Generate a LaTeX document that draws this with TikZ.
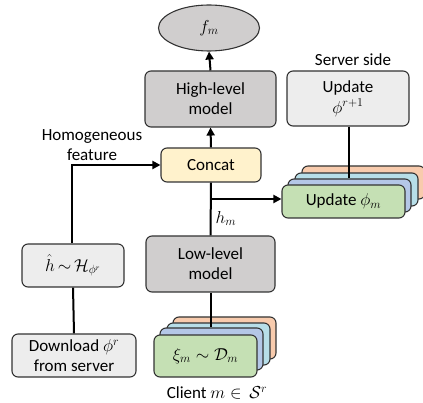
\documentclass[tikz,border=0pt]{standalone}
\usepackage{fontspec}
\setmainfont{Carlito}
\usetikzlibrary{shapes.geometric,arrows.meta,calc}
\definecolor{dgray}{HTML}{D0CECE}
\definecolor{lgray}{HTML}{EDEDED}
\definecolor{cyel}{HTML}{FFF2CC}
\definecolor{cgreen}{HTML}{C5E0B4}
\definecolor{cblue}{HTML}{B4C7E7}
\definecolor{cteal}{HTML}{B7DEE8}
\definecolor{corange}{HTML}{F8CBAD}
\definecolor{bord}{HTML}{333333}
\begin{document}
\begin{tikzpicture}[x=1pt,y=-1pt,
  every node/.style={font=\fontsize{17}{20}\selectfont},
  box/.style={draw=bord,line width=1.1pt,rounded corners=6pt,align=center,inner sep=0pt},
  conn/.style={line width=2pt,black},
  arr/.style={conn,-{Triangle[length=8pt,width=8pt]}},
  lbl/.style={align=center,inner sep=0pt}]
\useasboundingbox (0,0) rectangle (423,403);
% top
\node[ellipse,draw=bord,line width=1.1pt,fill=dgray,minimum width=101pt,minimum height=46pt,inner sep=0pt] (fm) at (209,28) {$f_m$};
\node[box,fill=dgray,minimum width=131pt,minimum height=56pt] (high) at (210.5,99) {High-level\\model};
\node[lbl] (srv) at (353,60) {Server side};
\node[box,fill=lgray,minimum width=122pt,minimum height=55pt] (upd) at (348,98.5) {Update\\[1pt]$\phi^{r+1}$};
\node[lbl] (homo) at (92,145.5) {Homogeneous\\feature};
\node[box,fill=cyel,minimum width=100pt,minimum height=34pt] (concat) at (211,165) {Concat};
% update phi_m stack
\node[box,fill=corange,minimum width=123pt,minimum height=33pt] (uo) at (363.5,182.5) {};
\node[box,fill=cteal,minimum width=123pt,minimum height=33pt] (ut) at (356.5,189.5) {};
\node[box,fill=cblue,minimum width=123pt,minimum height=33pt] (ub) at (349.5,195.5) {};
\node[box,fill=cgreen,minimum width=123pt,minimum height=33pt] (updm) at (343.5,201.5) {Update $\phi_m$};
% left
\node[box,fill=lgray,minimum width=102pt,minimum height=43pt] (hhat) at (73,265.5) {$\hat{h}\,{\sim}\,\mathcal{H}_{\phi^r}$};
\node[box,fill=dgray,minimum width=129pt,minimum height=56pt] (low) at (210.5,264) {Low-level\\model};
\node[box,fill=lgray,minimum width=124pt,minimum height=43pt] (down) at (74,355.5) {Download $\phi^r$\\from server};
% data stack
\node[box,fill=corange,minimum width=103pt,minimum height=42pt] (do) at (224.5,338) {};
\node[box,fill=cteal,minimum width=103pt,minimum height=42pt] (dt) at (218.5,344) {};
\node[box,fill=cblue,minimum width=103pt,minimum height=42pt] (db) at (211.5,349) {};
\node[box,fill=cgreen,minimum width=103pt,minimum height=42pt] (data) at (205.5,356) {$\xi_m\sim\mathcal{D}_m$};
\node[lbl] (client) at (217,393) {Client $m\in\,\mathcal{S}^r$};
% connectors
\draw[arr] (high.north) -- (fm.south);
\draw[arr] (concat.north) -- (high.south);
\draw[arr] ([xshift=-1pt]hhat.north) |- (concat.west);
\draw[conn] (down.north) -- (hhat.south);
\draw[conn] (concat.south) -- node[pos=0.68,right=4pt,inner sep=0pt] (hm) {$h_m$} (low.north);
\coordinate (j) at (concat.south |- 0,199);
\draw[arr] (j) -- (updm.west |- j);
\draw[conn] ([xshift=1pt]upd.south) -- ([xshift=1pt]upd.south |- ub.north);
\draw[conn] (low.south) -- (low.south |- db.north);
\end{tikzpicture}
\end{document}
